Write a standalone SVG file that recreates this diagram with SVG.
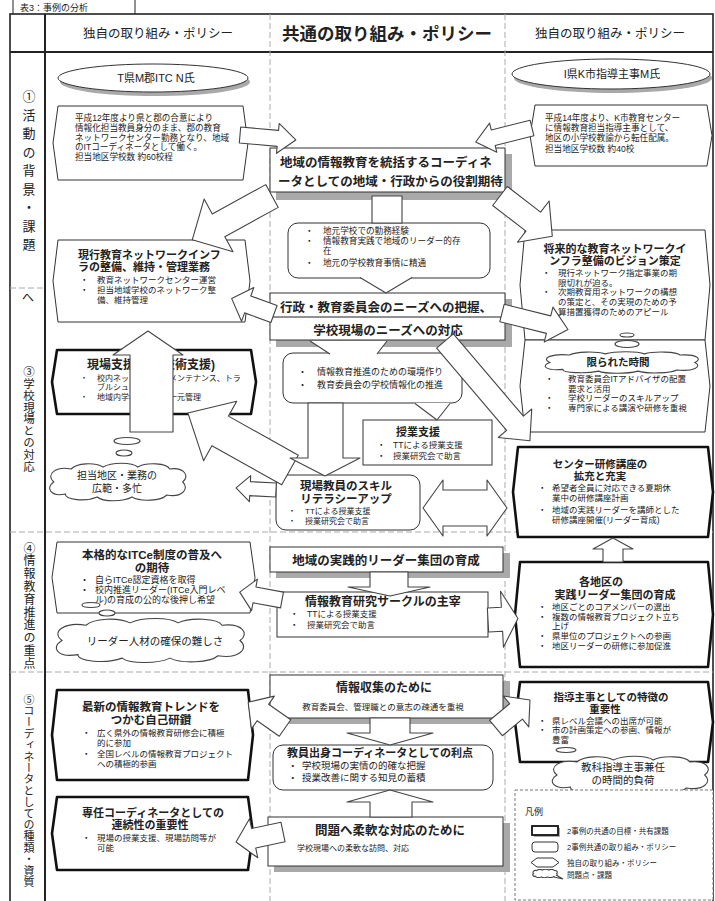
<svg xmlns="http://www.w3.org/2000/svg" width="715" height="901" viewBox="0 0 715 901">
<defs>
<style>
text{font-family:"Liberation Sans","Noto Sans CJK JP",sans-serif;fill:#222}
.b{font-weight:700}
.m{text-anchor:middle}
.ln{fill:none;stroke:#222}
.sep{fill:none;stroke:#aaa;stroke-width:1;stroke-dasharray:6 3}
.bx{fill:#fff;stroke:#333;stroke-width:1}
.tk{fill:#fff;stroke:#111;stroke-width:2.6;stroke-linejoin:round}
.sh{fill:#a9a9a9}
.ar{fill:#fff;stroke:#444;stroke-width:1.1;stroke-linejoin:round}
.cl{fill:#fff;stroke:#444;stroke-width:1.1}
.wf{fill:#fff;stroke:none}
.vt{writing-mode:vertical-rl;text-orientation:upright}
</style>
<symbol id="cloud" viewBox="0 0 100 40" preserveAspectRatio="none">
<path class="cl" vector-effect="non-scaling-stroke" d="M6,20 C0,12 8,4 18,7 C22,1 34,0 40,5 C46,0 60,0 64,5 C70,0 84,1 86,7 C96,5 100,14 95,20 C100,27 94,36 84,33 C80,39 66,40 60,35 C54,40 40,40 36,35 C28,40 14,38 14,32 C4,35 0,26 6,20 Z"/>
</symbol>
</defs>

<g id="frame">
<path class="ln" d="M13,0 V14 M135,0 V14" stroke-width="1"/>
<text x="20" y="11" font-size="9">表3：事例の分析</text>
<rect x="10" y="14" width="703" height="895" fill="none" stroke="#222" stroke-width="1.6"/>
<path class="ln" d="M45,14 V901" stroke-width="2"/>
<path class="ln" d="M10,52 H713" stroke-width="2"/>
<path class="sep" d="M270,14 V901 M505,14 V901" stroke="#c4c4c4"/>
<path class="sep" d="M10,288 H45 M10,532 H713 M10,672 H713"/>
<text class="m" x="158" y="38" font-size="12.5">独自の取り組み・ポリシー</text>
<text class="m b" x="387" y="40" font-size="17.5">共通の取り組み・ポリシー</text>
<text class="m" x="610" y="38" font-size="12.5">独自の取り組み・ポリシー</text>
<text class="vt" x="28" y="90" font-size="13" letter-spacing="5.5">①活動の背景・課題</text>
<text class="m" x="28" y="302" font-size="12">へ</text>
<text class="vt" x="28" y="366" font-size="11.5" letter-spacing="0.3">③学校現場との対応</text>
<text class="vt" x="28" y="542" font-size="12" letter-spacing="0.8">④情報教育推進の重点</text>
<text class="vt" x="28" y="694" font-size="11" letter-spacing="0.4">⑤コーディネータとしての種類・資質</text>
</g>

<g id="n-ellipse-left">
<ellipse cx="155" cy="82" rx="95" ry="14" class="sh"/>
<ellipse cx="153" cy="78" rx="95" ry="14" class="bx"/>
<text class="m" x="156" y="82" font-size="11">T県M郡ITC N氏</text>
</g>
<g id="n-ellipse-right">
<ellipse cx="613" cy="78" rx="99" ry="15" class="sh"/>
<ellipse cx="611" cy="74" rx="99" ry="15" class="bx"/>
<text class="m" x="612" y="78" font-size="11">I県K市指導主事M氏</text>
</g>

<g id="n-left-bg">
<path class="bx" d="M58,106 H243 L248,143 L243,180 H58 L53,143 Z"/>
<text font-size="8.6"><tspan x="75" y="121">平成12年度より県と郡の合意により</tspan><tspan x="75" y="130.8">情報化担当教員身分のまま、郡の教育</tspan><tspan x="75" y="140.6">ネットワークセンター勤務となり、地域</tspan><tspan x="75" y="150.4">のITコーディネータとして働く。</tspan><tspan x="75" y="160.2">担当地区学校数 約60校程</tspan></text>
</g>
<g id="n-right-bg">
<path class="bx" d="M535,105 H707 L712,135.5 L707,166 H535 L530,135.5 Z"/>
<text font-size="8.6"><tspan x="545" y="121">平成14年度より、K市教育センター</tspan><tspan x="545" y="130.8">に情報教育担当指導主事として、</tspan><tspan x="545" y="140.6">地区の小学校教諭から転任配属。</tspan><tspan x="545" y="151.5">担当地区学校数 約40校</tspan></text>
</g>

<g id="n-role">
<rect x="276" y="154" width="236" height="46" class="sh"/>
<rect x="270" y="148" width="235" height="44" class="bx"/>
<text class="b" font-size="12.5"><tspan x="280" y="167">地域の情報教育を統括するコーディネ</tspan><tspan x="278" y="186">ータとしての地域・行政からの役割期待</tspan></text>
</g>
<g id="n-background">
<rect x="288" y="223" width="202" height="55" rx="10" class="bx"/>
<text font-size="8.6"><tspan x="305" y="234">・</tspan><tspan x="323" y="234">地元学校での勤務経験</tspan><tspan x="305" y="244">・</tspan><tspan x="323" y="244">情報教育実践で地域のリーダー的存</tspan><tspan x="323" y="254">在</tspan><tspan x="305" y="265.5">・</tspan><tspan x="323" y="265.5">地元の学校教育事情に精通</tspan></text>
</g>
<g id="n-needs">
<rect x="276" y="299" width="236" height="48" class="sh"/>
<rect x="270" y="293" width="235" height="47" class="bx"/>
<path class="ln" d="M270,317 H505" stroke-width="1"/>
<text class="m b" x="386" y="312" font-size="12.5">行政・教育委員会のニーズへの把握、</text>
<text class="m b" x="388" y="334.5" font-size="12.5">学校現場のニーズへの対応</text>
</g>
<g id="n-environment">
<rect x="283" y="353" width="179" height="50" rx="10" class="bx"/>
<text font-size="9"><tspan x="298" y="375">・</tspan><tspan x="317" y="375">情報教育推進のための環境作り</tspan><tspan x="298" y="388">・</tspan><tspan x="317" y="388">教育委員会の学校情報化の推進</tspan></text>
</g>
<g id="n-lesson">
<rect x="363" y="420" width="129" height="45" class="bx"/>
<text font-size="8.5"><tspan class="b m" font-size="11" x="418" y="436">授業支援</tspan><tspan x="377" y="448">・</tspan><tspan x="393" y="448">TTによる授業支援</tspan><tspan x="377" y="458.5">・</tspan><tspan x="393" y="458.5">授業研究会で助言</tspan></text>
</g>

<g id="n-infra">
<path class="bx" d="M58,240 H245 L250,281 L245,322 H58 L53,281 Z"/>
<text font-size="8.5"><tspan class="b" font-size="11" x="78" y="258.5">現行教育ネットワークインフ</tspan><tspan class="b" font-size="11" x="78" y="271">ラの整備、維持・管理業務</tspan><tspan x="80" y="283">・</tspan><tspan x="97" y="283">教育ネットワークセンター運営</tspan><tspan x="80" y="293">・</tspan><tspan x="97" y="293">担当地域学校のネットワーク整</tspan><tspan x="97" y="303">備、維持管理</tspan></text>
</g>
<g id="n-support">
<path class="tk" d="M57,350 H251 L256,382 L251,414 H57 L52,382 Z"/>
<text font-size="8"><tspan class="b" font-size="12" x="87" y="369">現場支援業務(技術支援)</tspan><tspan x="80" y="380.5">・</tspan><tspan x="97" y="380.5">校内ネットワークのメンテナンス、トラ</tspan><tspan x="97" y="389.7">ブルシューティング</tspan><tspan x="80" y="400">・</tspan><tspan x="97" y="400">地域内学校の情報、一元管理</tspan></text>
</g>
<g id="n-cloud-busy">
<use href="#cloud" x="45" y="462" width="145" height="40"/>
<ellipse cx="127" cy="441" rx="13" ry="3.5" class="cl"/>
<ellipse cx="124" cy="453" rx="8" ry="3" class="cl"/>
<text class="m" font-size="10"><tspan x="117" y="479">担当地区・業務の</tspan><tspan x="117" y="492">広範・多忙</tspan></text>
</g>

<g id="n-vision">
<path class="bx" d="M525,230 H705 L710,285 L705,340 H525 L520,285 Z"/>
<text font-size="8.5"><tspan class="b m" font-size="11" x="615" y="252.5">将来的な教育ネットワークイ</tspan><tspan class="b m" font-size="11" x="615" y="265">ンフラ整備のビジョン策定</tspan><tspan x="542" y="276">・</tspan><tspan x="558" y="276">現行ネットワーク指定事業の期</tspan><tspan x="558" y="285.7">限切れが迫る。</tspan><tspan x="542" y="295.4">・</tspan><tspan x="558" y="295.4">次期教育用ネットワークの構想</tspan><tspan x="558" y="305.1">の策定と、その実現のための予</tspan><tspan x="558" y="314.8">算措置獲得のためのアピール</tspan></text>
</g>
<g id="n-time">
<path class="bx" d="M525,340 H705 L710,386 L705,432 H525 L520,386 Z"/>
<use href="#cloud" x="540" y="351" width="163" height="23"/>
<ellipse cx="627" cy="335" rx="7" ry="2" class="cl"/>
<ellipse cx="627" cy="344" rx="12" ry="3.5" class="cl"/>
<text font-size="8.5"><tspan class="b m" font-size="10.5" x="618" y="366">限られた時間</tspan><tspan x="545" y="382">・</tspan><tspan x="568" y="382">教育委員会ITアドバイザの配置</tspan><tspan x="568" y="391.7">要求と活用</tspan><tspan x="545" y="401.4">・</tspan><tspan x="568" y="401.4">学校リーダーのスキルアップ</tspan><tspan x="545" y="411.1">・</tspan><tspan x="568" y="411.1">専門家による講演や研修を重視</tspan></text>
</g>

<g id="n-center-course">
<path class="tk" d="M518,447 H708 L713,492 L708,537 H518 L513,492 Z"/>
<text font-size="8.5"><tspan class="b m" font-size="10.5" x="600" y="467.5">センター研修講座の</tspan><tspan class="b m" font-size="10.5" x="600" y="479.5">拡充と充実</tspan><tspan x="538" y="491">・</tspan><tspan x="552" y="491">希望者全員に対応できる夏期休</tspan><tspan x="552" y="501">業中の研修講座計画</tspan><tspan x="538" y="512.5">・</tspan><tspan x="552" y="512.5">地域の実践リーダーを講師とした</tspan><tspan x="552" y="522.5">研修講座開催(リーダー育成)</tspan></text>
</g>

<g id="n-skill">
<rect x="276" y="475" width="144" height="55" rx="10" class="bx"/>
<text font-size="8"><tspan class="b m" font-size="11.5" x="346" y="489.5">現場教員のスキル</tspan><tspan class="b m" font-size="11.5" x="346" y="502.5">リテラシーアップ</tspan><tspan x="288" y="514">・</tspan><tspan x="305" y="514">TTによる授業支援</tspan><tspan x="288" y="523.5">・</tspan><tspan x="305" y="523.5">授業研究会で助言</tspan></text>
</g>

<g id="n-itce">
<path class="bx" d="M57,542 H250 L255,577.5 L250,613 H57 L52,577.5 Z"/>
<text font-size="9"><tspan class="b m" font-size="11.5" x="152" y="559">本格的なITCe制度の普及へ</tspan><tspan class="b m" font-size="11.5" x="152" y="572">の期待</tspan><tspan x="80" y="582.5">・</tspan><tspan x="95" y="582.5">自らITCe認定資格を取得</tspan><tspan x="80" y="592.6">・</tspan><tspan x="95" y="592.6">校内推進リーダー(ITCe入門レベ</tspan><tspan x="95" y="602.7">ル)の育成の公的な後押し希望</tspan></text>
</g>
<g id="n-cloud-leader">
<use href="#cloud" x="50" y="617" width="200" height="47"/>
<ellipse cx="91" cy="605" rx="9" ry="2.5" class="cl"/>
<ellipse cx="107" cy="613" rx="8" ry="3" class="cl"/>
<text class="m" x="155" y="645" font-size="10.5">リーダー人材の確保の難しさ</text>
</g>

<g id="n-leader-group">
<rect x="276" y="553" width="234" height="25" class="sh"/>
<rect x="270" y="547" width="233" height="25" class="bx"/>
<text class="m b" x="386" y="564.5" font-size="12.5">地域の実践的リーダー集団の育成</text>
</g>
<g id="n-circle">
<rect x="277" y="592" width="211" height="45" class="bx"/>
<text font-size="8.5"><tspan class="b" font-size="12" x="305" y="606">情報教育研究サークルの主宰</tspan><tspan x="290" y="617">・</tspan><tspan x="307" y="617">TTによる授業支援</tspan><tspan x="290" y="627.5">・</tspan><tspan x="307" y="627.5">授業研究会で助言</tspan></text>
</g>
<g id="n-district">
<path class="tk" d="M520,562 H708 L713,614.5 L708,667 H520 L515,614.5 Z"/>
<text font-size="8.5"><tspan class="b m" font-size="11" x="601" y="586">各地区の</tspan><tspan class="b m" font-size="11" x="615" y="599">実践リーダー集団の育成</tspan><tspan x="538" y="610">・</tspan><tspan x="552" y="610">地区ごとのコアメンバーの選出</tspan><tspan x="538" y="619.7">・</tspan><tspan x="552" y="619.7">複数の情報教育プロジェクト立ち</tspan><tspan x="552" y="629.4">上げ</tspan><tspan x="538" y="639.1">・</tspan><tspan x="552" y="639.1">県単位のプロジェクトへの参画</tspan><tspan x="538" y="648.8">・</tspan><tspan x="552" y="648.8">地区リーダーの研修に参加促進</tspan></text>
</g>

<g id="n-trend">
<path class="tk" d="M57,690 H248 L253,735 L248,780 H57 L52,735 Z"/>
<text font-size="8.5"><tspan class="b m" font-size="11.5" x="151" y="711">最新の情報教育トレンドを</tspan><tspan class="b m" font-size="11.5" x="151" y="724">つかむ自己研鑽</tspan><tspan x="82" y="735.5">・</tspan><tspan x="97" y="735.5">広く県外の情報教育研修会に積極</tspan><tspan x="97" y="745.5">的に参加</tspan><tspan x="82" y="756.5">・</tspan><tspan x="97" y="756.5">全国レベルの情報教育プロジェクト</tspan><tspan x="97" y="767">への積極的参画</tspan></text>
</g>
<g id="n-continuity">
<path class="tk" d="M57,797 H248 L253,833.5 L248,870 H57 L52,833.5 Z"/>
<text font-size="8.5"><tspan class="b m" font-size="11" x="153" y="816.5">専任コーディネータとしての</tspan><tspan class="b m" font-size="11" x="150" y="829">連続性の重要性</tspan><tspan x="82" y="841">・</tspan><tspan x="97" y="841">現場の授業支援、現場訪問等が</tspan><tspan x="97" y="851">可能</tspan></text>
</g>

<g id="n-info">
<rect x="276" y="681" width="234" height="43" class="sh"/>
<rect x="270" y="675" width="233" height="43" class="bx"/>
<text class="m b" x="384" y="692" font-size="12">情報収集のために</text>
<text class="m" x="383" y="710" font-size="8.5">教育委員会、管理職との意志の疎通を重視</text>
</g>
<g id="n-merit">
<rect x="273" y="745" width="220" height="45" rx="10" class="bx"/>
<text font-size="9.5"><tspan class="b" font-size="11" x="287" y="757">教員出身コーディネータとしての利点</tspan><tspan x="288" y="769">・</tspan><tspan x="302" y="769">学校現場の実情の的確な把握</tspan><tspan x="288" y="781">・</tspan><tspan x="302" y="781">授業改善に関する知見の蓄積</tspan></text>
</g>
<g id="n-flexible">
<rect x="274" y="823" width="236" height="49" class="sh"/>
<rect x="268" y="817" width="235" height="49" class="bx"/>
<text class="m b" x="390" y="834.5" font-size="12.5">問題へ柔軟な対応のために</text>
<text x="297" y="851" font-size="8">学校現場への柔軟な訪問、対応</text>
</g>

<g id="n-supervisor">
<path class="tk" d="M520,682 H708 L713,722 L708,762 H520 L515,722 Z"/>
<text font-size="8.5"><tspan class="b m" font-size="10.5" x="611" y="700.5">指導主事としての特徴の</tspan><tspan class="b m" font-size="10.5" x="605" y="712.5">重要性</tspan><tspan x="538" y="723.5">・</tspan><tspan x="552" y="723.5">県レベル会議への出席が可能</tspan><tspan x="538" y="733.2">・</tspan><tspan x="552" y="733.2">市の計画策定への参画、情報が</tspan><tspan x="552" y="742.9">豊富</tspan></text>
</g>
<g id="n-cloud-load">
<use href="#cloud" x="547" y="755" width="166" height="40"/>
<ellipse cx="566" cy="750" rx="10" ry="2.5" class="cl"/>
<text class="m" font-size="10.5"><tspan x="623" y="771">教科指導主事兼任</tspan><tspan x="623" y="784">の時間的負荷</tspan></text>
</g>

<g id="legend">
<rect x="515" y="790" width="198" height="110" fill="#fff" stroke="#777" stroke-width="1" stroke-dasharray="3 2"/>
<text x="525" y="815" font-size="9">凡例</text>
<rect x="534" y="828" width="26" height="9" class="sh"/>
<rect x="532" y="826" width="26" height="9" fill="#fff" stroke="#111" stroke-width="1.8"/>
<rect x="532" y="842" width="26" height="10" rx="3" class="bx"/>
<path class="bx" d="M537,858 H553 L559,862.5 L553,867 H537 L531,862.5 Z"/>
<use href="#cloud" x="532" y="869" width="26" height="9"/>
<path class="cl" d="M556,875 L563,879 L554,877" fill="none"/>
<text font-size="7.5"><tspan x="567" y="834">2事例の共通の目標・共有課題</tspan><tspan x="567" y="850">2事例共通の取り組み・ポリシー</tspan><tspan x="567" y="866">独自の取り組み・ポリシー</tspan><tspan x="567" y="878">問題点・課題</tspan></text>
</g>

<g id="connectors">
<rect x="372" y="196" width="30" height="27" class="ar"/>
<path class="wf" d="M360,277 H412 L386,293 Z"/><path class="ar" fill="none" d="M360,277.5 L386,293 L412,277.5"/>
<path class="wf" d="M310,341 H387 L377,354 H330 Z"/><path class="ar" fill="none" d="M310,341 L330,354 M387,341 L377,354"/>
<path class="wf" d="M415,403 H450 L437,420 Z"/><path class="ar" fill="none" d="M415,403.5 L437,420 L450,403.5"/>
<path class="ar" transform="translate(240,135) rotate(5.1)" d="M0,-8 H38 V-15 L56,0 L38,15 V8 H0 Z"/>
<path class="ar" transform="translate(532,128) rotate(166)" d="M0,-8 H40 V-15 L58,0 L40,15 V8 H0 Z"/>
<path class="ar" transform="translate(272,196) rotate(151.2)" d="M0,-13 H61 V-30 L91,0 L61,30 V13 H0 Z"/>
<path class="ar" transform="translate(500,196) rotate(37.6)" d="M0,-12 H42 V-26 L66,0 L42,26 V12 H0 Z"/>
<path class="ar" transform="translate(274,314) rotate(200)" d="M0,-9 H28 V-18 L45,0 L28,18 V9 H0 Z"/>
<path class="ar" transform="translate(502,313) rotate(14)" d="M0,-9 H48 V-18 L68,0 L48,18 V9 H0 Z"/>
<path class="ar" d="M130,432 V355 H113 L148,331 L183,355 H173 V432 Z"/>
<path class="ar" transform="translate(290,470) rotate(209.2)" d="M0,-17 H80 V-34 L117,0 L80,34 V17 H0 Z"/>
<path class="ar" transform="translate(276,490) rotate(183)" d="M0,-7 H26 V-13 L40,0 L26,13 V7 H0 Z"/>
<path class="ar" d="M308,403 V458 H290 L325,476 L360,458 H343 V403 Z"/>
<path class="ar" transform="translate(445,341) rotate(49.6)" d="M0,-11 H108 V-22 L131,0 L108,22 V11 H0 Z"/>
<path class="ar" transform="translate(423,508)" d="M0,0 L20,-28 V-18 H64 V-28 L84,0 L64,28 V18 H20 V28 Z"/>
<path class="ar" d="M603,562 V549 H593 L613,538 L633,549 H623 V562 Z"/>
<path class="ar" d="M370,572 V587 H348 L390,596 L430,587 H408 V572 Z"/>
<path class="ar" transform="translate(282,600) rotate(190.5)" d="M0,-8 H28 V-16 L43,0 L28,16 V8 H0 Z"/>
<path class="ar" transform="translate(488,620) rotate(-3)" d="M0,-12 H14 V-28 L30,0 L14,28 V12 H0 Z"/>
<path class="ar" d="M370,718 V733 H347 L390,745 L433,733 H410 V718 Z"/>
<path class="ar" d="M370,817 V802 H347 L390,790 L433,802 H412 V817 Z"/>
<path class="ar" transform="translate(285,728) rotate(215)" d="M0,-10 H27 V-20 L45,0 L27,20 V10 H0 Z"/>
<path class="ar" transform="translate(496,728) rotate(-39.5)" d="M0,-10 H26 V-20 L44,0 L26,20 V10 H0 Z"/>
<path class="ar" transform="translate(283,832) rotate(168)" d="M0,-10 H30 V-20 L48,0 L30,20 V10 H0 Z"/>
</g>
</svg>
